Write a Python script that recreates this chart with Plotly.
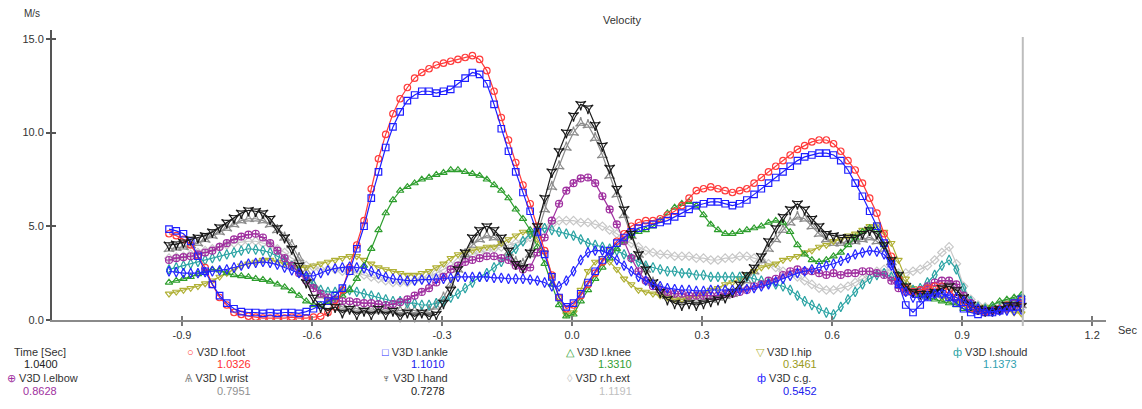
import plotly.graph_objects as go

time = [round(-0.93 + i / 60, 4) for i in range(119)]

foot = [4.6, 4.5, 4.3, 4.0, 3.4, 2.8, 1.9, 1.2, 0.8, 0.4,
        0.3, 0.2, 0.15, 0.1, 0.1, 0.1, 0.1, 0.15, 0.1, 0.1,
        0.15, 0.2, 0.4, 0.7, 1.6, 2.8, 4.0, 5.3, 7.0, 8.6,
        9.9, 11.0, 11.8, 12.4, 12.9, 13.2, 13.4, 13.6, 13.7, 13.8,
        13.9, 14.0, 14.1, 13.9, 13.3, 12.2, 10.8, 9.6, 8.4, 7.2,
        6.2, 5.0, 3.7, 2.4, 1.2, 0.6, 0.8, 1.3, 1.9, 2.5,
        3.1, 3.7, 4.2, 4.6, 5.0, 5.2, 5.3, 5.3, 5.4, 5.6,
        5.8, 6.1, 6.5, 6.9, 7.0, 7.1, 7.0, 6.9, 6.8, 6.9,
        7.0, 7.3, 7.6, 7.9, 8.2, 8.5, 8.8, 9.1, 9.3, 9.5,
        9.6, 9.6, 9.4, 9.0, 8.5, 8.0, 7.3, 6.5, 5.7, 4.6,
        3.4, 2.2, 1.7, 1.5, 1.6, 1.7, 1.8, 1.8, 1.6, 1.2,
        0.9, 0.6, 0.5, 0.4, 0.5, 0.6, 0.8, 0.9, 1.03]

ankle = [4.85, 4.75, 4.6, 4.2, 3.4, 2.6, 1.9, 1.3, 0.9, 0.6,
         0.45, 0.4, 0.4, 0.35, 0.4, 0.35, 0.4, 0.4, 0.35, 0.45,
         0.6, 0.8, 1.0, 1.3, 1.7, 2.6, 3.8, 5.0, 6.5, 7.9,
         9.2, 10.3, 11.1, 11.7, 12.0, 12.2, 12.2, 12.1, 12.2, 12.3,
         12.6, 12.9, 13.2, 13.1, 12.6, 11.5, 10.2, 9.0, 7.9, 6.8,
         5.8, 4.7, 3.5, 2.3, 1.2, 0.7, 0.9, 1.4, 2.0, 2.6,
         3.2, 3.7, 4.1, 4.4, 4.7, 4.9, 5.0, 5.1, 5.2, 5.3,
         5.5, 5.7, 5.9, 6.1, 6.2, 6.3, 6.3, 6.2, 6.1, 6.2,
         6.4, 6.7, 7.0, 7.3, 7.6, 7.9, 8.2, 8.5, 8.7, 8.8,
         8.9, 8.9, 8.8, 8.5, 8.0, 7.3, 6.6, 5.8, 5.0, 4.1,
         3.0, 1.9, 0.8, 0.4, 0.8, 1.2, 1.4, 1.4, 1.2, 0.9,
         0.6, 0.4, 0.3, 0.4, 0.4, 0.5, 0.7, 0.9, 1.10]

knee = [2.0, 2.1, 2.2, 2.3, 2.45, 2.6, 2.7, 2.65, 2.5, 2.4,
        2.35, 2.3, 2.2, 2.15, 2.05, 1.9, 1.75, 1.55, 1.3, 1.0,
        0.8, 0.8, 0.95, 1.1, 1.3, 1.6, 2.2, 2.9, 3.8, 4.8,
        5.7, 6.4, 6.9, 7.1, 7.3, 7.5, 7.6, 7.75, 7.85, 8.0,
        8.0, 7.9, 7.8, 7.7, 7.5, 7.2, 6.9, 6.5, 5.9, 5.4,
        4.8, 3.9, 3.0, 1.9, 0.8, 0.2, 0.3, 1.0, 1.6, 2.2,
        2.8, 3.3, 3.8, 4.2, 4.5, 4.7, 4.8, 5.0, 5.3, 5.7,
        6.0, 6.2, 6.3, 6.1, 5.6, 5.1, 4.8, 4.6, 4.6, 4.7,
        4.8, 4.9, 5.0, 5.2, 5.3, 5.2, 4.7, 4.0, 3.5, 3.2,
        3.1, 3.2, 3.4, 3.6, 4.0, 4.4, 4.7, 4.9, 4.8, 4.0,
        3.2, 2.4, 1.8, 1.5, 1.3, 1.2, 1.1, 1.0, 0.9, 0.8,
        0.6, 0.5, 0.5, 0.6, 0.8, 1.0, 1.1, 1.2, 1.33]

hip = [1.4, 1.5, 1.6, 1.7, 1.8, 1.95, 2.1, 2.3, 2.5, 2.7,
       2.9, 3.0, 3.1, 3.2, 3.2, 3.1, 3.0, 2.9, 2.8, 2.8,
       2.9, 3.0, 3.1, 3.2, 3.3, 3.4, 3.4, 3.2, 3.0, 2.8,
       2.7, 2.6, 2.5, 2.4, 2.4, 2.5, 2.6, 2.8, 3.0, 3.3,
       3.5, 3.6, 3.7, 3.8, 3.9, 3.9, 4.1, 4.3, 4.5, 4.7,
       4.6, 4.3, 3.6, 2.4, 1.2, 0.3, 0.4, 1.6, 2.6, 3.1,
       3.3, 3.1, 2.7, 2.2, 1.9, 1.6, 1.5, 1.4, 1.3, 1.2,
       1.1, 1.1, 1.2, 1.3, 1.4, 1.6, 1.7, 1.9, 2.0, 2.2,
       2.4, 2.6, 2.8, 2.9, 3.0, 3.2, 3.3, 3.4, 3.6, 3.7,
       3.9, 4.0, 4.2, 4.3, 4.5, 4.6, 4.8, 5.0, 5.1, 4.7,
       4.1, 3.2, 2.2, 1.7, 1.5, 1.4, 1.3, 1.2, 1.1, 1.0,
       0.9, 0.8, 0.7, 0.7, 0.6, 0.6, 0.5, 0.4, 0.35]

shoulder = [2.7, 2.8, 2.9, 3.0, 3.1, 3.2, 3.3, 3.4, 3.5, 3.6,
            3.7, 3.8, 3.75, 3.7, 3.6, 3.4, 3.2, 2.9, 2.6, 2.2,
            1.9, 1.6, 1.5, 1.5, 1.6, 1.6, 1.5, 1.4, 1.3, 1.2,
            1.1, 1.0, 1.0, 0.9, 0.9, 0.8, 0.8, 0.9, 1.0, 1.2,
            1.4, 1.7, 2.0, 2.3, 2.5, 2.8, 3.1, 3.4, 3.8, 4.2,
            4.6, 4.8, 4.9, 4.8, 4.7, 4.6, 4.5, 4.3, 4.1, 4.0,
            3.9, 3.8, 3.7, 3.5, 3.3, 3.1, 2.9, 2.8, 2.7, 2.6,
            2.6, 2.5, 2.5, 2.4, 2.4, 2.3, 2.3, 2.3, 2.3, 2.3,
            2.3, 2.2, 2.1, 2.0, 1.9, 1.8, 1.6, 1.3, 1.0, 0.8,
            0.6, 0.4, 0.3, 0.7, 1.1, 1.5, 1.9, 2.2, 2.4, 2.5,
            2.3, 1.9, 1.7, 1.6, 1.7, 2.0, 2.4, 2.9, 3.2, 2.7,
            1.7, 1.0, 0.7, 0.6, 0.6, 0.6, 0.7, 0.9, 1.14]

elbow = [3.2, 3.3, 3.35, 3.4, 3.5, 3.6, 3.7, 3.9, 4.1, 4.3,
         4.45, 4.55, 4.6, 4.4, 4.1, 3.7, 3.3, 2.9, 2.5, 2.1,
         1.7, 1.4, 1.2, 1.1, 1.0, 1.0, 0.95, 0.9, 0.9, 0.85,
         0.8, 0.85, 0.95, 1.1, 1.3, 1.5, 1.7, 2.0, 2.3, 2.7,
         2.9, 3.1, 3.2, 3.3, 3.4, 3.4, 3.3, 3.2, 2.9, 2.7,
         2.8, 3.6, 4.4, 5.3, 6.2, 6.9, 7.3, 7.55, 7.6, 7.3,
         6.6, 5.9, 5.1, 4.2, 3.3, 2.6, 2.1, 1.8, 1.6, 1.5,
         1.4, 1.4, 1.3, 1.3, 1.3, 1.3, 1.3, 1.4, 1.4, 1.5,
         1.6, 1.8, 1.9, 2.1, 2.2, 2.4, 2.6, 2.7, 2.6, 2.6,
         2.5, 2.4, 2.5, 2.4, 2.5, 2.5, 2.6, 2.6, 2.5, 2.4,
         2.1, 1.7, 1.5, 1.5, 1.6, 1.8, 2.0, 2.1, 2.1, 1.9,
         1.3, 0.9, 0.6, 0.5, 0.5, 0.5, 0.6, 0.7, 0.86]

wrist = [3.8, 3.85, 3.9, 4.0, 4.1, 4.3, 4.5, 4.7, 4.9, 5.1,
         5.3, 5.4, 5.4, 5.3, 5.1, 4.8, 4.4, 4.0, 3.3, 2.6,
         1.9, 1.3, 1.0, 0.8, 0.7, 0.6, 0.6, 0.5, 0.6, 0.5,
         0.6, 0.5, 0.5, 0.6, 0.5, 0.4, 0.5, 0.7, 1.2, 1.9,
         2.7, 3.5, 4.0, 4.3, 4.5, 4.4, 4.1, 3.6, 3.1, 3.0,
         3.5, 4.6, 5.9, 7.1, 8.2, 9.2, 10.0, 10.5, 10.4, 9.7,
         8.8, 7.7, 6.7, 5.6, 4.5, 3.5, 2.7, 2.0, 1.6, 1.3,
         1.2, 1.1, 1.1, 1.0, 1.1, 1.1, 1.2, 1.3, 1.4, 1.7,
         2.1, 2.6, 3.2, 3.8, 4.3, 4.8, 5.2, 5.5, 5.4, 5.0,
         4.6, 4.3, 4.1, 4.1, 4.2, 4.2, 4.3, 4.4, 4.2, 3.8,
         3.1, 2.3, 1.8, 1.5, 1.4, 1.5, 1.6, 1.8, 1.9, 1.7,
         1.2, 0.8, 0.6, 0.5, 0.5, 0.6, 0.6, 0.7, 0.80]

hand = [4.0, 4.05, 4.15, 4.3, 4.4, 4.5, 4.7, 4.95, 5.2, 5.45,
        5.7, 5.85, 5.8, 5.7, 5.4, 4.9, 4.4, 3.8, 2.9, 2.0,
        1.2, 0.7, 0.5, 0.7, 0.4, 0.6, 0.3, 0.5, 0.3, 0.6,
        0.3, 0.5, 0.2, 0.4, 0.2, 0.4, 0.2, 0.3, 0.9, 1.6,
        2.7, 3.6, 4.4, 4.8, 5.0, 4.8, 4.4, 3.7, 3.0, 2.8,
        3.6, 5.0, 6.5, 7.9, 9.0, 10.0, 10.9, 11.5, 11.3, 10.4,
        9.3, 8.1, 7.0, 5.9, 4.6, 3.5, 2.7, 2.0, 1.5, 1.1,
        0.9, 0.8, 0.9, 0.8, 0.9, 1.0, 1.1, 1.2, 1.5, 1.9,
        2.4, 2.8, 3.4, 4.2, 4.9, 5.5, 5.9, 6.2, 5.9, 5.4,
        5.0, 4.6, 4.5, 4.4, 4.4, 4.4, 4.6, 4.8, 4.6, 4.0,
        3.2, 2.4, 1.8, 1.5, 1.4, 1.4, 1.5, 1.7, 1.8, 1.6,
        1.2, 0.8, 0.6, 0.5, 0.5, 0.6, 0.8, 0.8, 0.73]

rh_ext = [3.3, 3.35, 3.4, 3.5, 3.6, 3.7, 3.8, 3.9, 4.0, 4.1,
          4.15, 4.2, 4.2, 4.1, 4.0, 3.8, 3.6, 3.3, 3.1, 2.9,
          2.8, 2.7, 2.7, 2.7, 2.6, 2.6, 2.5, 2.4, 2.3, 2.2,
          2.1, 2.0, 2.0, 2.0, 2.1, 2.2, 2.3, 2.5, 2.7, 2.9,
          3.1, 3.3, 3.5, 3.6, 3.7, 3.8, 3.9, 4.0, 4.1, 4.2,
          4.4, 4.6, 4.9, 5.1, 5.3, 5.3, 5.3, 5.2, 5.2, 5.1,
          5.0, 4.8, 4.6, 4.3, 4.1, 3.9, 3.7, 3.6, 3.5, 3.5,
          3.4, 3.4, 3.4, 3.3, 3.3, 3.2, 3.2, 3.3, 3.3, 3.4,
          3.4, 3.3, 3.2, 3.0, 2.8, 2.6, 2.4, 2.3, 2.1, 1.9,
          1.7, 1.6, 1.6, 1.7, 1.8, 2.0, 2.2, 2.4, 2.6, 2.7,
          2.6, 2.5, 2.5, 2.6, 2.7, 2.9, 3.2, 3.6, 3.9, 3.0,
          1.8, 1.1, 0.8, 0.7, 0.7, 0.8, 0.9, 1.0, 1.12]

cg = [2.6, 2.55, 2.5, 2.5, 2.5, 2.55, 2.6, 2.65, 2.7, 2.8,
      2.9, 3.0, 3.05, 3.1, 3.05, 2.95, 2.8, 2.65, 2.5, 2.35,
      2.35, 2.5, 2.65, 2.75, 2.8, 2.85, 2.8, 2.75, 2.6, 2.45,
      2.3, 2.2, 2.15, 2.1, 2.1, 2.15, 2.15, 2.2, 2.2, 2.25,
      2.3, 2.3, 2.3, 2.3, 2.3, 2.25, 2.25, 2.2, 2.2, 2.2,
      2.15, 2.1, 2.0, 1.8, 1.8, 2.1, 2.6, 3.2, 3.6, 3.7,
      3.7, 3.5, 3.2, 2.9, 2.6, 2.3, 2.1, 1.9, 1.8, 1.7,
      1.65, 1.6, 1.6, 1.55, 1.55, 1.6, 1.6, 1.6, 1.6, 1.6,
      1.65, 1.7, 1.8, 1.9, 2.05, 2.2, 2.35, 2.5, 2.6, 2.7,
      2.8, 2.9, 3.0, 3.15, 3.3, 3.5, 3.6, 3.7, 3.65, 3.5,
      2.9, 2.0, 1.5, 1.2, 1.2, 1.3, 1.4, 1.4, 1.3, 1.2,
      1.0, 0.8, 0.6, 0.5, 0.45, 0.5, 0.5, 0.5, 0.55]

x_tick_values = [-0.9, -0.6, -0.3, 0.0, 0.3, 0.6, 0.9, 1.2]
x_tick_labels = ["-0.9", "-0.6", "-0.3", "0.0", "0.3", "0.6", "0.9", "1.2"]
y_tick_values = [0, 5, 10, 15]
y_tick_labels = ["0.0", "5.0", "10.0", "15.0"]

cursor_time = 1.04
cursor_label = "1.0400"

legend_names = ["V3D l.foot", "V3D l.ankle", "V3D l.knee", "V3D l.hip", "V3D l.should",
                "V3D l.elbow", "V3D l.wrist", "V3D l.hand", "V3D r.h.ext", "V3D c.g."]
legend_values = ["1.0326", "1.1010", "1.3310", "0.3461", "1.1373",
                 "0.8628", "0.7951", "0.7278", "1.1191", "0.5452"]
legend_icons = ["\u25CB", "\u25A1", "\u25B3", "\u25BD", "\u0444",
                "\u2295", "\u0466", "\u2646", "\u25CA", "\u0444"]

# ---------------- styles ----------------
series_values = [foot, ankle, knee, hip, shoulder, elbow, wrist, hand, rh_ext, cg]
line_colors = ["#ff3b3b", "#1f1fff", "#2e9e2e", "#b0b035", "#2aa3a3",
               "#a030a0", "#8c8c8c", "#1a1a1a", "#c8c8c8", "#2424ff"]
value_colors = ["#ff3030", "#2020ee", "#33a033", "#9a9a20", "#30a0b0",
                "#a030a0", "#909090", "#222222", "#c0c0c0", "#2020ee"]
symbols = ["circle-open", "square-open", "triangle-up-open", "triangle-down-open",
           "diamond-tall-open", "circle-cross-open", "star-triangle-up-open",
           "star-triangle-down-open", "diamond-open", "diamond-tall-open"]
marker_sizes = [6.5, 6.5, 6.5, 6.5, 7, 7, 7.5, 7.5, 6.5, 7]
draw_order = [8, 6, 3, 4, 2, 5, 0, 1, 7, 9]

W, H = 1142, 409
ML, MR, MT, MB = 52, 36, 30, 89
PW, PH = W - ML - MR, H - MT - MB
FONT = "Liberation Sans, Arial, sans-serif"


def fx(px):
    return (px - ML) / PW


def fy(py):
    return (H - MB - py) / PH


fig = go.Figure()
for k in draw_order:
    fig.add_trace(go.Scatter(
        x=time, y=series_values[k], mode="lines+markers", name=legend_names[k],
        line=dict(color=line_colors[k], width=1.2),
        marker=dict(symbol=symbols[k], size=marker_sizes[k], color=line_colors[k],
                    line=dict(width=1.2, color=line_colors[k])),
        cliponaxis=False, showlegend=False, hoverinfo="skip"))

# helper axes for the crossing ("+") tick marks
fig.add_trace(go.Scatter(x=[None], y=[None], xaxis="x2", yaxis="y2",
                         showlegend=False, hoverinfo="skip"))

x_range = [-1.2, 1.232]
y_range = [0, PH / 18.75]

fig.update_layout(
    width=W, height=H,
    margin=dict(l=ML, r=MR, t=MT, b=MB, pad=0),
    paper_bgcolor="white", plot_bgcolor="white",
    font=dict(family=FONT, size=11, color="#333333"),
    xaxis=dict(range=x_range, tickvals=x_tick_values, ticktext=x_tick_labels,
               ticks="outside", ticklen=4, tickwidth=1.5, tickcolor="#777777",
               showline=True, linecolor="#8a8a8a", linewidth=2,
               showgrid=False, zeroline=False,
               tickfont=dict(family=FONT, size=11, color="#333333")),
    yaxis=dict(range=y_range, tickvals=y_tick_values, ticktext=y_tick_labels,
               ticks="outside", ticklen=4, tickwidth=1.5, tickcolor="#555555",
               showline=True, linecolor="#555555", linewidth=2,
               showgrid=False, zeroline=False,
               tickfont=dict(family=FONT, size=11, color="#333333")),
    xaxis2=dict(range=x_range, overlaying="x", anchor="y2", side="bottom",
                tickvals=x_tick_values, ticks="inside", ticklen=4, tickwidth=1.5,
                tickcolor="#777777", showticklabels=False, showgrid=False,
                zeroline=False, showline=False),
    yaxis2=dict(range=y_range, overlaying="y", anchor="x2", side="left",
                tickvals=y_tick_values, ticks="inside", ticklen=4, tickwidth=1.5,
                tickcolor="#555555", showticklabels=False, showgrid=False,
                zeroline=False, showline=False),
)

# cursor line
fig.add_shape(type="line", xref="x", yref="paper", x0=cursor_time, x1=cursor_time,
              y0=fy(326), y1=fy(37), line=dict(color="#bdbdbd", width=2))

ann = []
ann.append(dict(text="Velocity", x=fx(622), y=fy(20)))
ann.append(dict(text="M/s", x=fx(32), y=fy(13), font=dict(size=10)))
ann.append(dict(text="Sec", x=fx(1127), y=fy(330)))

# legend table
name_cx = [216, 415, 598, 784, 990, 42, 216, 415, 598, 784]
value_cx = [234, 428, 615, 800, 1000, 40, 234, 428, 615, 800]
row_name_y = [352, 352, 352, 352, 352, 378, 378, 378, 378, 378]
row_value_y = [364, 364, 364, 364, 364, 391, 391, 391, 391, 391]

ann.append(dict(text="Time [Sec]", x=fx(40), y=fy(352)))
ann.append(dict(text=cursor_label, x=fx(41), y=fy(364), font=dict(color="#222222")))
for k in range(10):
    ann.append(dict(
        text='<span style="color:%s">%s</span> %s' % (line_colors[k], legend_icons[k], legend_names[k]),
        x=fx(name_cx[k]), y=fy(row_name_y[k])))
    ann.append(dict(text=legend_values[k], x=fx(value_cx[k]), y=fy(row_value_y[k]),
                    font=dict(color=value_colors[k])))

for a in ann:
    a.setdefault("xref", "paper")
    a.setdefault("yref", "paper")
    a.setdefault("showarrow", False)
    a.setdefault("xanchor", "center")
    a.setdefault("yanchor", "middle")
    f = dict(family=FONT, size=11, color="#333333")
    f.update(a.get("font", {}))
    a["font"] = f
    fig.add_annotation(**a)

fig.write_html("out.html")
